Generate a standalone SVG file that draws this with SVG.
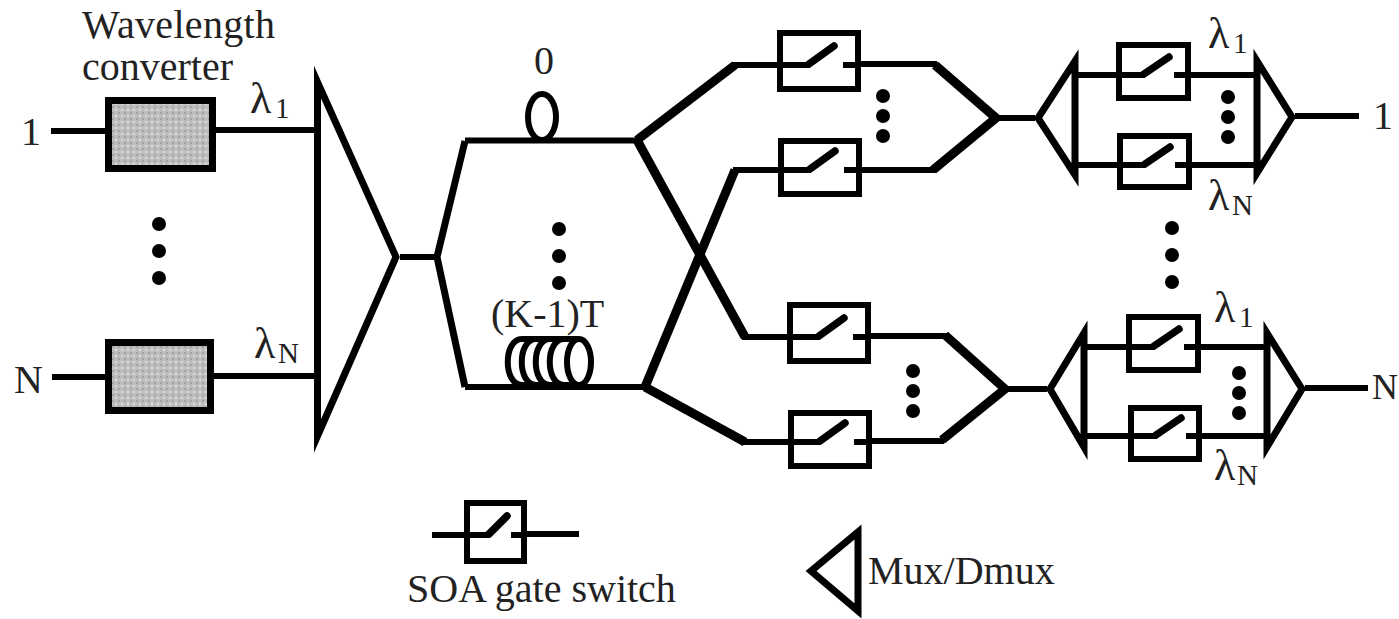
<svg xmlns="http://www.w3.org/2000/svg" width="1399" height="619" viewBox="0 0 1399 619">
<style>
text{font-family:"Liberation Serif","Times New Roman",serif;font-size:40px;fill:#222}
.sub{font-size:29px}
.lam{font-size:44px}
.l{fill:none;stroke:#000;stroke-width:6}
.t{fill:none;stroke:#000;stroke-width:9;stroke-linejoin:round}
.m2{fill:none;stroke:#000;stroke-width:7;stroke-linejoin:round}
.m{fill:none;stroke:#000;stroke-width:7;stroke-miterlimit:12}
.b{fill:none;stroke:#000;stroke-width:6}
.sw{fill:none;stroke:#000;stroke-width:6}
.arm{fill:none;stroke:#000;stroke-width:7.500;stroke-linecap:round}
.wc{fill:url(#speck);stroke:#000;stroke-width:7}
.d{fill:#000}
</style>
<defs>
<pattern id="speck" width="6" height="6" patternUnits="userSpaceOnUse">
<rect width="6" height="6" fill="#bdbdbd"/>
<rect x="1" y="1" width="2" height="2" fill="#dcdcdc"/>
<rect x="4" y="4" width="2" height="2" fill="#a4a4a4"/>
</pattern>
<g id="sym">
<path class="sw" d="M30 0H0M63 0H78"/>
<path class="arm" d="M29-1L54-19"/>
</g>
<g id="sym2">
<path class="sw" d="M26 0H0M55 0H69"/>
<path class="arm" d="M25-1L50-18"/>
</g>
<g id="dots"><circle class="d" cy="-27" r="7"/><circle class="d" r="7"/><circle class="d" cy="27" r="7"/></g>
<g id="dots2"><circle class="d" cy="-20" r="7"/><circle class="d" r="7"/><circle class="d" cy="20" r="7"/></g>
</defs>
<g id="connectors">
<path class="l" d="M51 131H105M216 130H317M52 377H105M214 376H317"/>
<path class="l" d="M400 257H437M637 140.500H465M465 387H645"/>
<path class="m2" d="M465 141L437 257L465 387"/>
<path class="t" d="M637 140L735 65"/>
<path class="t" d="M637 140L745 337"/>
<path class="t" d="M645 387L735 170"/>
<path class="t" d="M645 387L745 442"/>
<path class="l" d="M732 65H780M733 170H781M742 337H790M742 442H791"/>
<path class="l" d="M858 64H937M860 170H935M868 336H947M870 441H944"/>
<path class="t" d="M935 65L996 118L933 170"/>
<path class="t" d="M945 335L1005 389L942 440"/>
<path class="l" d="M998 118H1035M1007 389H1047"/>
<path class="l" d="M1075 75H1119M1075 165H1120M1188 75H1257M1189 165H1257"/>
<path class="l" d="M1084 347H1129M1084 436H1131M1198 347H1267M1199 436H1267"/>
<path class="l" d="M1295 116H1359M1305 388H1368"/>
<path class="l" d="M432 535H466M525 534H579"/>
</g>
<g id="wc1"><rect class="wc" x="108.500" y="100.500" width="104" height="68"/></g>
<g id="wcN"><rect class="wc" x="108.500" y="342.500" width="102" height="68"/></g>
<g id="mux-main"><path class="m" d="M317.500 82V436L396 257Z"/></g>
<g id="delay0"><ellipse class="b" cx="542" cy="117" rx="14" ry="23"/></g>
<g id="delayK">
<path class="b" d="M522 339H578M522 385H578"/>
<path class="b" d="M522 339C503 339 503 385 522 385M536 339C517 339 517 385 536 385M550 339C531 339 531 385 550 385M564 339C545 339 545 385 564 385"/>
<ellipse class="b" cx="579" cy="362" rx="12" ry="23"/>
</g>
<g id="sw1"><rect class="sw" x="780" y="33" width="78" height="56"/><use href="#sym" x="780" y="65"/></g>
<g id="sw2"><rect class="sw" x="781" y="141" width="78" height="53"/><use href="#sym" x="781" y="170"/></g>
<g id="sw3"><rect class="sw" x="790" y="305" width="78" height="56"/><use href="#sym" x="790" y="337"/></g>
<g id="sw4"><rect class="sw" x="791" y="413" width="78" height="53"/><use href="#sym" x="791" y="442"/></g>
<g id="sw5"><rect class="sw" x="1119" y="45" width="69" height="53"/><use href="#sym2" x="1119" y="75"/></g>
<g id="sw6"><rect class="sw" x="1120" y="136" width="69" height="51"/><use href="#sym2" x="1120" y="165"/></g>
<g id="sw7"><rect class="sw" x="1129" y="317" width="69" height="53"/><use href="#sym2" x="1129" y="347"/></g>
<g id="sw8"><rect class="sw" x="1131" y="408" width="68" height="51"/><use href="#sym2" x="1131" y="436"/></g>
<g id="dmux1"><path class="m" d="M1075 61V175L1038 118Z"/></g>
<g id="mux1"><path class="m" d="M1257 61V173L1292 117Z"/></g>
<g id="dmux2"><path class="m" d="M1084 333V447L1050 389Z"/></g>
<g id="mux2"><path class="m" d="M1267 333V447L1302 389Z"/></g>
<g id="legend-switch"><rect class="sw" x="467" y="503" width="57" height="58"/><path class="sw" d="M466 535H490M511 535H525"/><path class="arm" d="M489 534L507 516"/></g>
<g id="legend-mux"><path class="m" d="M858 532V611L811 571Z"/></g>
<g id="dotmarks">
<use href="#dots" x="159" y="251"/>
<use href="#dots" x="559" y="256"/>
<use href="#dots" x="1172" y="255"/>
<use href="#dots2" x="883" y="116"/>
<use href="#dots2" x="1228" y="117"/>
<use href="#dots2" x="913" y="391"/>
<use href="#dots2" x="1239" y="393"/>
</g>
<g id="labels">
<text x="82" y="38" textLength="193">Wavelength</text>
<text x="82" y="80">converter</text>
<text x="21" y="145">1</text>
<text x="14" y="393">N</text>
<text class="lam" x="250" y="113">λ</text><text class="sub" x="275" y="118">1</text>
<text class="lam" x="254" y="358">λ</text><text class="sub" x="278" y="363">N</text>
<text x="534" y="74">0</text>
<text x="491" y="327">(K-1)T</text>
<text class="lam" x="1208" y="48">λ</text><text class="sub" x="1233" y="53">1</text>
<text class="lam" x="1208" y="210">λ</text><text class="sub" x="1232" y="215">N</text>
<text class="lam" x="1214" y="322">λ</text><text class="sub" x="1239" y="327">1</text>
<text class="lam" x="1214" y="480">λ</text><text class="sub" x="1237" y="485">N</text>
<text x="1373" y="129">1</text>
<text x="1372" y="399" style="font-size:36px">N</text>
<text x="407" y="602">SOA gate switch</text>
<text x="868" y="584">Mux/Dmux</text>
</g>
</svg>
